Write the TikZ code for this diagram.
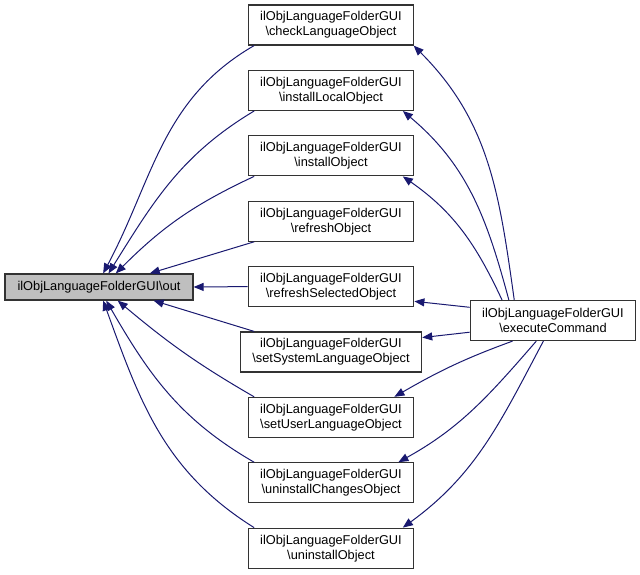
\documentclass[tikz,border=0pt]{standalone}
\usepackage{fontspec}
\setmainfont{Liberation Sans}
\usetikzlibrary{arrows.meta}
\definecolor{edgeblue}{HTML}{191970}
\tikzset{
  box/.style={draw=black!80,line width=1.2pt,fill=white,align=center,minimum width=164pt,minimum height=40pt,inner xsep=12pt,inner ysep=2pt,font=\fontsize{12.8}{15}\selectfont},
  edge/.style={draw=edgeblue,line width=1pt,-{Triangle[length=10pt,width=8pt]}},
}
\begin{document}
\begin{tikzpicture}[x=1pt,y=1pt]
\useasboundingbox (0,0) rectangle (640,-575);
\node[box,fill=black!25,minimum width=188pt,minimum height=26pt] (out) at (99,-287) {ilObjLanguageFolderGUI\textbackslash out};
\node[box] (exec) at (553,-320.5) {ilObjLanguageFolderGUI\\\textbackslash executeCommand};
\foreach \n/\lbl [count=\i from 0] in {chk/checkLanguageObject,inl/installLocalObject,ins/installObject,rfo/refreshObject,rfs/refreshSelectedObject,ssl/setSystemLanguageObject,usl/setUserLanguageObject,uic/uninstallChangesObject,uio/uninstallObject}
  \node[box] (\n) at (331,{-25-65.4*\i}) {ilObjLanguageFolderGUI\\\textbackslash\lbl};
% executeCommand -> callers
\draw[edge] (exec.152) to[out=98,in=-45] (chk.-14);
\draw[edge] (exec.155) to[out=105,in=-40] (inl.-16);
\draw[edge] (exec.158) to[out=115,in=-35] (ins.-16);
\draw[edge] (exec.171) -- (rfs.-10);
\draw[edge] (exec.188) -- (ssl.9);
\draw[edge] (exec.207) to[out=200,in=30] (usl.18);
\draw[edge] (exec.231) to[out=229,in=29] (uic.17);
\draw[edge] (exec.245) to[out=242,in=36] (uio.16);
% callers -> out
\draw[edge] (chk.195) to[out=210,in=62] (out.73);
\draw[edge] (inl.195) to[out=211,in=58] (out.55);
\draw[edge] (ins.195) to[out=205,in=45] (out.39);
\draw[edge] (rfo.195) -- (out.15);
\draw[edge] (rfs.west) -- (out.east);
\draw[edge] (ssl.165) -- (out.-14);
\draw[edge] (usl.165) to[out=150,in=-40] (out.-36);
\draw[edge] (uic.165) to[out=150,in=-60] (out.-62);
\draw[edge] (uio.165) to[out=148,in=-70] (out.-73);
\end{tikzpicture}
\end{document}
